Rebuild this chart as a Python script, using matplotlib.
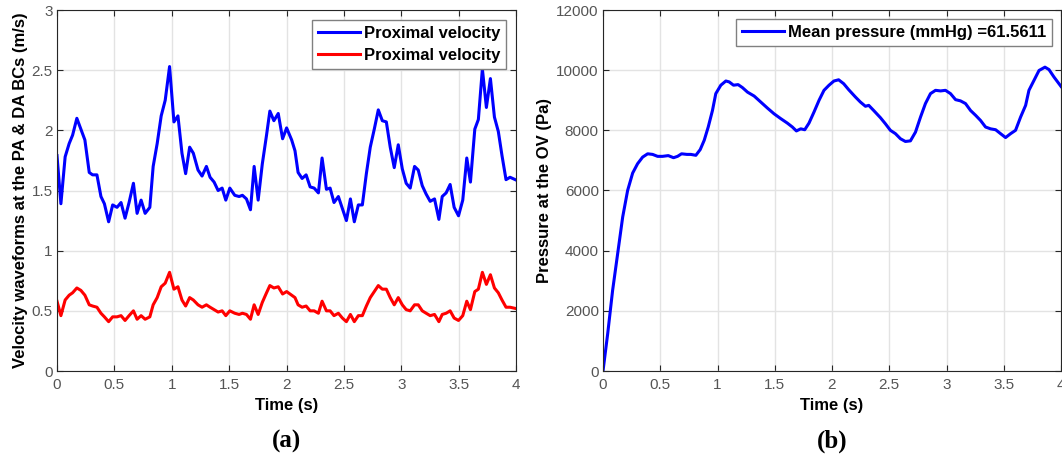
import matplotlib
matplotlib.use("Agg")
import matplotlib.pyplot as plt

# ---------------- data ----------------
t_vel_a = [0.000, 0.034, 0.071, 0.106, 0.136, 0.173, 0.208, 0.243, 0.281, 0.310,
           0.348, 0.383, 0.413, 0.450, 0.485, 0.523, 0.558, 0.593, 0.628, 0.666,
           0.698, 0.733, 0.768, 0.809, 0.838, 0.873, 0.908, 0.943, 0.981, 1.019,
           1.054, 1.089, 1.121, 1.156, 1.188, 1.229, 1.264, 1.302, 1.334, 1.369,
           1.404, 1.439, 1.471, 1.506, 1.549, 1.587, 1.616, 1.651, 1.686, 1.718,
           1.753, 1.789, 1.826, 1.855, 1.890, 1.928, 1.966, 2.001, 2.045, 2.074]
t_vel_b = [2.101, 2.136, 2.171, 2.206, 2.241, 2.278, 2.310, 2.348, 2.380, 2.414,
           2.452, 2.487, 2.522, 2.557, 2.591, 2.626, 2.661, 2.696, 2.730, 2.765,
           2.800, 2.835, 2.870, 2.904, 2.939, 2.974, 3.009, 3.043, 3.078, 3.116,
           3.148, 3.183, 3.217, 3.252, 3.290, 3.328, 3.357, 3.391, 3.426, 3.461,
           3.499, 3.536, 3.571, 3.603, 3.641, 3.672, 3.707, 3.742, 3.777, 3.812,
           3.846, 3.878, 3.913, 3.948, 3.994]
time_vel = t_vel_a + t_vel_b

vel_blue = [1.79, 1.39, 1.78, 1.89, 1.96, 2.10, 2.01, 1.92, 1.65, 1.63,
            1.63, 1.45, 1.39, 1.24, 1.38, 1.36, 1.40, 1.27, 1.40, 1.56,
            1.31, 1.42, 1.31, 1.36, 1.70, 1.89, 2.12, 2.25, 2.53, 2.07,
            2.12, 1.81, 1.64, 1.86, 1.81, 1.67, 1.62, 1.70, 1.61, 1.57,
            1.50, 1.52, 1.42, 1.52, 1.46, 1.45, 1.46, 1.43, 1.34, 1.70,
            1.42, 1.72, 1.96, 2.16, 2.08, 2.14, 1.93, 2.02, 1.92, 1.83,
            1.65, 1.60, 1.63, 1.53, 1.52, 1.48, 1.77, 1.51, 1.52, 1.40,
            1.45, 1.35, 1.25, 1.43, 1.24, 1.38, 1.38, 1.64, 1.86, 2.01,
            2.17, 2.08, 2.07, 1.86, 1.69, 1.88, 1.68, 1.56, 1.52, 1.70,
            1.67, 1.54, 1.47, 1.41, 1.43, 1.26, 1.45, 1.48, 1.55, 1.36,
            1.29, 1.42, 1.77, 1.57, 2.01, 2.09, 2.51, 2.19, 2.43, 2.11,
            1.99, 1.79, 1.59, 1.61, 1.59]

vel_red = [0.58, 0.46, 0.59, 0.63, 0.65, 0.69, 0.67, 0.63, 0.55, 0.54,
           0.53, 0.48, 0.45, 0.41, 0.45, 0.45, 0.46, 0.42, 0.46, 0.50,
           0.43, 0.46, 0.43, 0.45, 0.55, 0.61, 0.70, 0.73, 0.82, 0.68,
           0.70, 0.59, 0.54, 0.61, 0.59, 0.55, 0.53, 0.55, 0.53, 0.51,
           0.49, 0.50, 0.46, 0.50, 0.48, 0.47, 0.48, 0.47, 0.43, 0.55,
           0.47, 0.57, 0.65, 0.71, 0.69, 0.70, 0.64, 0.66, 0.63, 0.61,
           0.55, 0.53, 0.54, 0.50, 0.50, 0.48, 0.58, 0.50, 0.50, 0.46,
           0.48, 0.44, 0.41, 0.47, 0.41, 0.46, 0.46, 0.54, 0.61, 0.66,
           0.71, 0.68, 0.68, 0.61, 0.55, 0.61, 0.55, 0.51, 0.50, 0.55,
           0.55, 0.50, 0.48, 0.46, 0.47, 0.41, 0.47, 0.48, 0.50, 0.44,
           0.42, 0.46, 0.58, 0.51, 0.66, 0.68, 0.82, 0.72, 0.80, 0.69,
           0.65, 0.59, 0.53, 0.53, 0.52]

time_p = [0.000, 0.041, 0.084, 0.128, 0.172, 0.215, 0.259, 0.302, 0.346, 0.390,
          0.433, 0.477, 0.520, 0.570, 0.616, 0.651, 0.686, 0.733, 0.767, 0.811,
          0.849, 0.884, 0.919, 0.956, 0.985, 1.029, 1.073, 1.102, 1.140, 1.180,
          1.218, 1.262, 1.320, 1.378, 1.436, 1.494, 1.552, 1.610, 1.654, 1.689,
          1.727, 1.762, 1.799, 1.843, 1.887, 1.930, 1.974, 2.017,
          2.058, 2.102, 2.146, 2.204, 2.248, 2.292, 2.321, 2.364, 2.423, 2.466,
          2.510, 2.554, 2.598, 2.641, 2.685, 2.729, 2.773, 2.816, 2.860, 2.904,
          2.948, 2.991, 3.035, 3.079, 3.122, 3.166, 3.210, 3.254, 3.297, 3.341,
          3.385, 3.429, 3.472, 3.516, 3.560, 3.603, 3.647, 3.691, 3.720, 3.764,
          3.808, 3.860, 3.895, 3.939, 4.000]
pressure = [0, 1240, 2680, 3900, 5120, 6000, 6580, 6890, 7110, 7220,
            7200, 7135, 7135, 7160, 7090, 7135, 7220, 7200, 7200, 7170,
            7360, 7670, 8110, 8660, 9220, 9500, 9640, 9610, 9500, 9520,
            9420, 9270, 9140, 8940, 8740, 8550, 8390, 8240, 8110, 7980,
            8050, 8020, 8240, 8610, 9000, 9330, 9500, 9640,
            9680, 9550, 9350, 9110, 8940, 8800, 8830, 8660, 8420, 8220,
            8000, 7890, 7720, 7630, 7650, 7940, 8440, 8890, 9220, 9330,
            9310, 9330, 9220, 9020, 8980, 8890, 8660, 8500, 8330, 8110,
            8050, 8020, 7890, 7760, 7890, 8000, 8440, 8830, 9330, 9660,
            9990, 10100, 10020, 9770, 9460]

x_ticks = [0, 0.5, 1, 1.5, 2, 2.5, 3, 3.5, 4]
x_ticklabels = ["0", "0.5", "1", "1.5", "2", "2.5", "3", "3.5", "4"]
yv_ticks = [0, 0.5, 1, 1.5, 2, 2.5, 3]
yv_ticklabels = ["0", "0.5", "1", "1.5", "2", "2.5", "3"]
yp_ticks = [0, 2000, 4000, 6000, 8000, 10000, 12000]
yp_ticklabels = ["0", "2000", "4000", "6000", "8000", "10000", "12000"]

legend_vel = ["Proximal velocity", "Proximal velocity"]
legend_p = "Mean pressure (mmHg) =61.5611"

# ---------------- style ----------------
plt.rcParams['font.family'] = ['Liberation Sans', 'DejaVu Sans']

W, H = 1062, 461
fig = plt.figure(figsize=(W / 100, H / 100), dpi=100)

axL = fig.add_axes([57 / W, 1 - 371 / H, (516 - 57) / W, (371 - 10) / H])
axR = fig.add_axes([603 / W, 1 - 371 / H, (1061 - 603) / W, (371 - 10) / H])

tick_color = '#555555'
spine_color = '#262626'


def style(ax):
    ax.grid(True, color='#e3e3e3', linewidth=1.0)
    ax.set_axisbelow(True)
    for s in ax.spines.values():
        s.set_color(spine_color)
        s.set_linewidth(0.8)
    ax.tick_params(direction='in', length=4, width=0.8, colors=spine_color,
                   labelcolor=tick_color, labelsize=11, top=True, right=True)
    ax.tick_params(axis='x', pad=5)
    ax.tick_params(axis='y', pad=3)
    ax.set_xlim(0, 4)
    ax.set_xticks(x_ticks)
    ax.set_xticklabels(x_ticklabels)
    ax.set_xlabel("Time (s)", fontsize=12, fontweight='bold', labelpad=4)


legend_kw = dict(loc='upper right', prop={'weight': 'bold', 'size': 12},
                 fancybox=False, edgecolor='#808080', framealpha=1,
                 handlelength=2.5, handletextpad=0.25, borderpad=0.35,
                 labelspacing=0.45)

axL.plot(time_vel, vel_blue, color='#0000ff', linewidth=2.2, label=legend_vel[0])
axL.plot(time_vel, vel_red, color='#ff0000', linewidth=2.2, label=legend_vel[1])
style(axL)
axL.set_ylim(0, 3)
axL.set_yticks(yv_ticks)
axL.set_yticklabels(yv_ticklabels)
axL.set_ylabel("Velocity waveforms at the PA & DA BCs (m/s)", fontsize=12,
               fontweight='bold', labelpad=3)
legL = axL.legend(borderaxespad=0.6, **legend_kw)
legL.get_frame().set_linewidth(1.0)

axR.plot(time_p, pressure, color='#0000ff', linewidth=2.2, label=legend_p)
style(axR)
axR.set_ylim(0, 12000)
axR.set_yticks(yp_ticks)
axR.set_yticklabels(yp_ticklabels)
axR.set_ylabel("Pressure at the OV (Pa)", fontsize=12, fontweight='bold', labelpad=3)
legR = axR.legend(borderaxespad=0.55, **legend_kw)
legR.get_frame().set_linewidth(1.0)

fig.text((57 + 516) / 2 / W, 1 - 441 / H, "(a)", ha='center', va='center',
         fontsize=18, fontweight='bold', family=['Liberation Serif', 'DejaVu Serif'])
fig.text((603 + 1061) / 2 / W, 1 - 441 / H, "(b)", ha='center', va='center',
         fontsize=18, fontweight='bold', family=['Liberation Serif', 'DejaVu Serif'])

fig.savefig("out.png", dpi=100)
